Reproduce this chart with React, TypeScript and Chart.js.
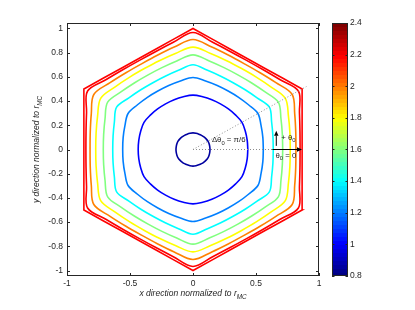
import { useEffect, useRef } from 'react';
import { Chart, registerables } from 'chart.js';

Chart.register(...registerables);

// ---- axis ticks ----
const X_TICKS = [-1, -0.5, 0, 0.5, 1];
const Y_TICKS = [-1, -0.8, -0.6, -0.4, -0.2, 0, 0.2, 0.4, 0.6, 0.8, 1];
const CB_TICKS = [0.8, 1, 1.2, 1.4, 1.6, 1.8, 2, 2.2, 2.4];
const CB_MIN = 0.8;
const CB_MAX = 2.4;

// ---- contour data ----
// contour level values (colour through the jet colormap of the colorbar)
const LEVELS = [0.85, 1.0, 1.2, 1.4, 1.6, 1.8, 2.0, 2.2, 2.2];
// angle (deg) measured from the hexagon edge normal, inside one 30° sector
const SECTOR_PHI = [0, 10, 20, 30];
// radius of each contour at those sector angles
const R_085 = [0.135, 0.135, 0.136, 0.137];
const R_100 = [0.435, 0.437, 0.442, 0.449];
const R_120 = [0.558, 0.563, 0.575, 0.595];
const R_140 = [0.637, 0.644, 0.664, 0.700];
const R_160 = [0.712, 0.720, 0.743, 0.782];
const R_180 = [0.772, 0.781, 0.806, 0.846];
const R_200 = [0.817, 0.828, 0.859, 0.909];
const R_220_IN = [0.850, 0.862, 0.899, 0.966];
const R_220_OUT = [0.866, 0.879, 0.922, 1.0];
const RADII = [R_085, R_100, R_120, R_140, R_160, R_180, R_200, R_220_IN, R_220_OUT];

const FONT = '"Liberation Sans", Arial, Helvetica, sans-serif';
const INK = '#262626';

function jet(t: number): string {
  const c = (v: number) => Math.round(255 * Math.max(0, Math.min(1, v)));
  const r = Math.min(4 * t - 1.5, -4 * t + 4.5);
  const g = Math.min(4 * t - 0.5, -4 * t + 3.5);
  const b = Math.min(4 * t + 0.5, -4 * t + 2.5);
  return `rgb(${c(r)},${c(g)},${c(b)})`;
}

function contourPoints(radii: number[]) {
  const pts: { x: number; y: number }[] = [];
  for (let th = 0; th <= 360; th += 10) {
    const m = th % 60;
    const phi = m <= 30 ? m : 60 - m;
    const r = radii[SECTOR_PHI.indexOf(phi)];
    const a = (th * Math.PI) / 180;
    pts.push({ x: r * Math.cos(a), y: r * Math.sin(a) });
  }
  return pts;
}

type Part = [string, boolean];

function drawRich(ctx: CanvasRenderingContext2D, parts: Part[], x: number, y: number, size: number, align: 'left' | 'center', italic: boolean) {
  const main = `${italic ? 'italic ' : ''}${size}px ${FONT}`;
  const sub = `${italic ? 'italic ' : ''}${size * 0.75}px ${FONT}`;
  let total = 0;
  for (const [t, s] of parts) {
    ctx.font = s ? sub : main;
    total += ctx.measureText(t).width;
  }
  let cx = align === 'center' ? x - total / 2 : x;
  ctx.textAlign = 'left';
  ctx.textBaseline = 'alphabetic';
  for (const [t, s] of parts) {
    ctx.font = s ? sub : main;
    ctx.fillText(t, cx, s ? y + size * 0.3 : y);
    cx += ctx.measureText(t).width;
  }
}

function arrow(ctx: CanvasRenderingContext2D, x0: number, y0: number, x1: number, y1: number) {
  const ang = Math.atan2(y1 - y0, x1 - x0);
  const hl = 5;
  const hw = 2.2;
  const bx = x1 - hl * Math.cos(ang);
  const by = y1 - hl * Math.sin(ang);
  ctx.beginPath();
  ctx.moveTo(x0, y0);
  ctx.lineTo(bx, by);
  ctx.stroke();
  ctx.beginPath();
  ctx.moveTo(x1, y1);
  ctx.lineTo(bx + hw * Math.sin(ang), by - hw * Math.cos(ang));
  ctx.lineTo(bx - hw * Math.sin(ang), by + hw * Math.cos(ang));
  ctx.closePath();
  ctx.fill();
}

const zeroPad = (s: any) => {
  s.paddingTop = 0;
  s.paddingBottom = 0;
  s.paddingLeft = 0;
  s.paddingRight = 0;
};

const decor = {
  id: 'decor',
  afterDatasetsDraw(chart: any) {
    const { ctx, scales } = chart;
    const px = (v: number) => scales.x.getPixelForValue(v);
    const py = (v: number) => scales.y.getPixelForValue(v);
    ctx.save();
    ctx.strokeStyle = '#8c8c8c';
    ctx.lineWidth = 1;
    ctx.setLineDash([1, 2]);
    ctx.beginPath();
    ctx.moveTo(px(0), py(0));
    ctx.lineTo(px(0.9), py(0.52));
    ctx.moveTo(px(0), py(0));
    ctx.lineTo(px(0.63), py(0));
    ctx.stroke();
    ctx.setLineDash([]);
    ctx.strokeStyle = '#000';
    ctx.fillStyle = '#000';
    ctx.lineWidth = 1;
    arrow(ctx, px(0.63), py(0), px(0.865), py(0));
    arrow(ctx, px(0.661), py(0.03), px(0.661), py(0.155));
    ctx.fillStyle = INK;
    drawRich(ctx, [['\u0394\u03b8', false], ['0', true], [' = \u03c0/6', false]], px(0.15), py(0.06), 7.8, 'left', false);
    drawRich(ctx, [['+ \u03b8', false], ['0', true]], px(0.7), py(0.08), 7.8, 'left', false);
    drawRich(ctx, [['\u03b8', false], ['0', true], [' = 0', false]], px(0.655), py(-0.067), 7.8, 'left', false);
    ctx.restore();
  },
  afterDraw(chart: any) {
    const { ctx, chartArea: ca, scales } = chart;
    ctx.save();
    // axes box
    ctx.strokeStyle = INK;
    ctx.lineWidth = 1;
    ctx.strokeRect(ca.left + 0.5, ca.top + 0.5, ca.right - ca.left - 1, ca.bottom - ca.top - 1);
    // inward ticks
    const tl = 3;
    ctx.beginPath();
    for (const v of X_TICKS) {
      const x = Math.round(scales.x.getPixelForValue(v)) + 0.5;
      ctx.moveTo(x, ca.bottom);
      ctx.lineTo(x, ca.bottom - tl);
      ctx.moveTo(x, ca.top);
      ctx.lineTo(x, ca.top + tl);
    }
    for (const v of Y_TICKS) {
      const y = Math.round(scales.y.getPixelForValue(v)) + 0.5;
      ctx.moveTo(ca.left, y);
      ctx.lineTo(ca.left + tl, y);
      ctx.moveTo(ca.right, y);
      ctx.lineTo(ca.right - tl, y);
    }
    ctx.stroke();

    // axis titles
    ctx.fillStyle = INK;
    drawRich(ctx, [['x direction normalized to r', false], ['MC', true]], (ca.left + ca.right) / 2, 296, 8.5, 'center', true);
    ctx.save();
    ctx.translate(39, (ca.top + ca.bottom) / 2);
    ctx.rotate(-Math.PI / 2);
    drawRich(ctx, [['y direction normalized to r', false], ['MC', true]], 0, 0, 8.5, 'center', true);
    ctx.restore();

    // colorbar
    const cb = scales.cb;
    const cbL = 332;
    const cbW = 16;
    const n = 64;
    for (let i = 0; i < n; i++) {
      const v0 = CB_MIN + ((CB_MAX - CB_MIN) * i) / n;
      const v1 = CB_MIN + ((CB_MAX - CB_MIN) * (i + 1)) / n;
      const y0 = cb.getPixelForValue(v1);
      const y1 = cb.getPixelForValue(v0);
      ctx.fillStyle = jet(i / (n - 1));
      ctx.fillRect(cbL, Math.floor(y0), cbW, Math.ceil(y1) - Math.floor(y0));
    }
    ctx.strokeStyle = INK;
    ctx.strokeRect(cbL + 0.5, cb.top + 0.5, cbW - 1, cb.bottom - cb.top - 1);
    ctx.beginPath();
    for (const v of CB_TICKS) {
      const y = Math.round(cb.getPixelForValue(v)) + 0.5;
      ctx.moveTo(cbL, y);
      ctx.lineTo(cbL + 2.5, y);
      ctx.moveTo(cbL + cbW, y);
      ctx.lineTo(cbL + cbW - 2.5, y);
    }
    ctx.stroke();
    ctx.restore();
  },
};

export default function App() {
  const ref = useRef<HTMLCanvasElement | null>(null);
  useEffect(() => {
    if (!ref.current) return;
    const tickFont = { family: FONT, size: 8.5 };
    const chart = new Chart(ref.current, {
      type: 'scatter',
      data: {
        datasets: RADII.map((radii, i) => ({
          label: `level ${LEVELS[i]}`,
          data: contourPoints(radii),
          showLine: true,
          borderColor: jet((LEVELS[i] - CB_MIN) / (CB_MAX - CB_MIN)),
          borderWidth: 1.6,
          pointRadius: 0,
          tension: radii === R_220_OUT ? 0 : 0.34,
          xAxisID: 'x',
          yAxisID: 'y',
        })),
      },
      options: {
        animation: false,
        responsive: false,
        devicePixelRatio: 1,
        layout: { padding: { top: 23, left: 0, right: 0, bottom: 0 } },
        plugins: { legend: { display: false }, tooltip: { enabled: false } },
        scales: {
          x: {
            type: 'linear',
            min: -1,
            max: 1,
            afterBuildTicks: (s: any) => { s.ticks = X_TICKS.map((v) => ({ value: v })); },
            afterFit: (s: any) => { s.height = 34; zeroPad(s); },
            grid: { display: false, drawTicks: false },
            border: { display: false },
            ticks: { padding: 3, font: tickFont, color: INK, maxRotation: 0, autoSkip: false, callback: (v: any) => String(v) },
          },
          y: {
            type: 'linear',
            min: -1.045,
            max: 1.045,
            afterBuildTicks: (s: any) => { s.ticks = Y_TICKS.map((v) => ({ value: v })); },
            afterFit: (s: any) => { s.width = 67; zeroPad(s); },
            grid: { display: false, drawTicks: false },
            border: { display: false },
            ticks: { padding: 4, font: tickFont, color: INK, autoSkip: false, callback: (v: any) => String(v) },
          },
          cb: {
            type: 'linear',
            axis: 'y',
            position: 'right',
            min: CB_MIN,
            max: CB_MAX,
            afterBuildTicks: (s: any) => { s.ticks = CB_TICKS.map((v) => ({ value: v })); },
            afterFit: (s: any) => { s.width = 96; zeroPad(s); },
            grid: { display: false, drawTicks: false },
            border: { display: false },
            ticks: { padding: 31, font: tickFont, color: INK, autoSkip: false, callback: (v: any) => String(v) },
          },
        },
      } as any,
      plugins: [decor],
    });
    return () => chart.destroy();
  }, []);
  return (
    <div style={{ position: 'fixed', left: 0, top: 0, width: 415, height: 310, background: '#fff' }}>
      <canvas ref={ref} width={415} height={310} style={{ width: 415, height: 310 }} />
    </div>
  );
}
